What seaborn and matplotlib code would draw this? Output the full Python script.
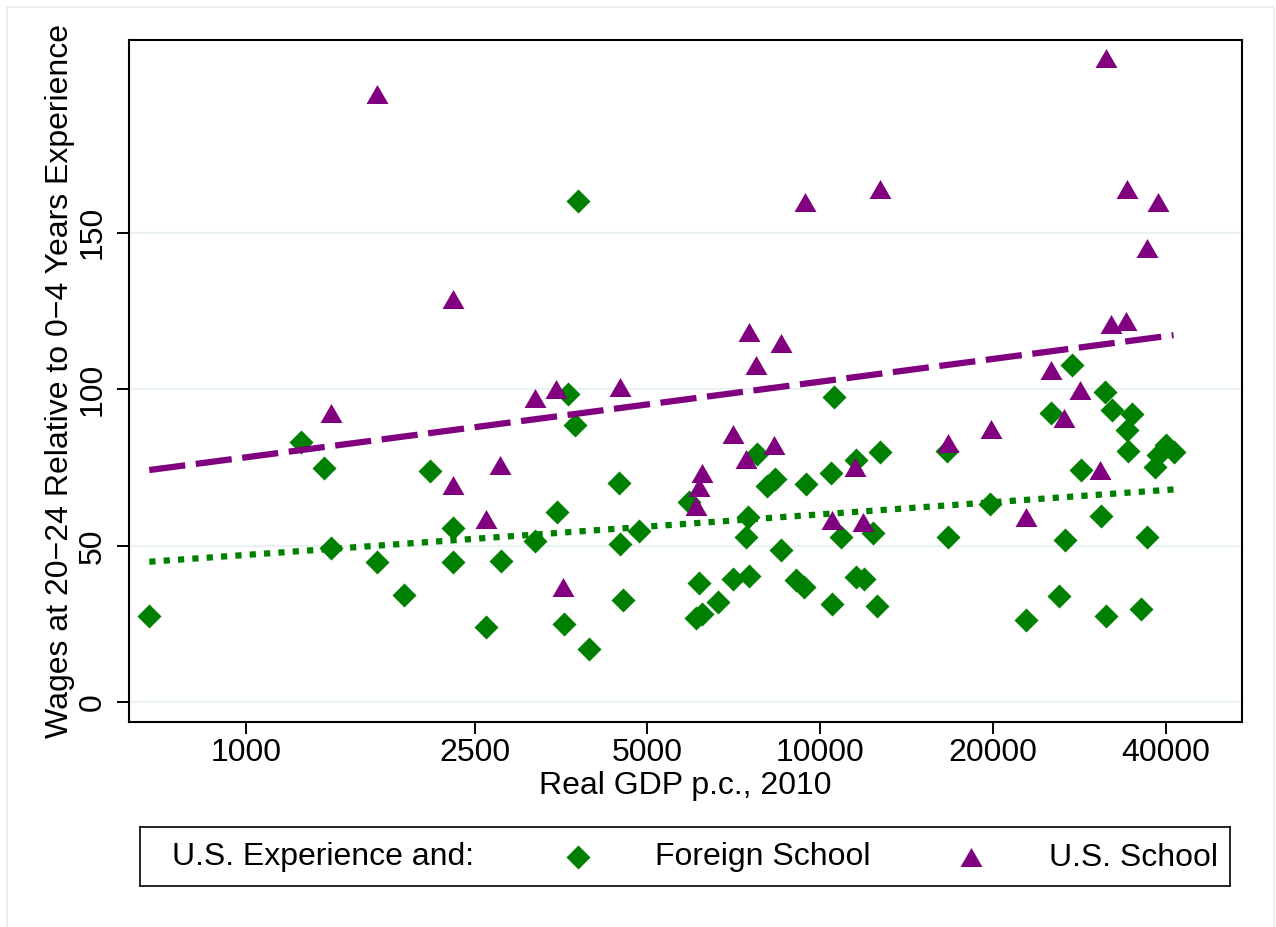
import pandas as pd
import matplotlib
matplotlib.use("Agg")
import matplotlib.pyplot as plt
import seaborn as sns
from matplotlib.markers import MarkerStyle
from matplotlib.path import Path
from matplotlib.patches import Rectangle

# wage at 20-24 yrs experience relative to 0-4 yrs, by real GDP p.c. 2010
foreign_gdp = [678, 1245, 1367, 1404, 1693, 1887, 2092, 2290, 2288, 2618,
               2777, 3188, 3477, 3581, 3629, 3743, 3785, 3963, 4467, 4471,
               4532, 4842, 5912, 6072, 6161, 6220, 6624, 7035, 7421, 7499,
               7530, 7757, 8073, 8348, 8541, 9073, 9389, 9428, 10440, 10500,
               10590, 10860, 11540, 11540, 11930, 12350, 12560, 12720, 16600, 16730,
               19790, 22850, 25240, 26090, 26650, 27410, 28460, 30790, 31370, 31480,
               32210, 34200, 34330, 34980, 36230, 37150, 38330, 38820, 40070, 41260]
foreign_wage = [27.6, 83.3, 74.8, 49.2, 44.9, 34.3, 73.9, 55.8, 44.7, 24.2,
                45.2, 51.5, 60.9, 24.9, 98.5, 88.6, 160.2, 16.9, 70.0, 50.6,
                32.7, 54.8, 64.1, 26.8, 38.2, 28.1, 31.9, 39.3, 52.7, 59.1,
                40.4, 79.3, 69.0, 71.4, 48.7, 39.1, 36.9, 69.6, 73.2, 31.4,
                97.4, 52.7, 77.4, 40.1, 39.4, 54.2, 30.9, 79.9, 80.3, 52.9,
                63.3, 26.3, 92.3, 34.1, 51.9, 107.8, 74.2, 59.5, 99.2, 27.7,
                93.4, 87.0, 80.3, 92.0, 29.8, 52.7, 75.3, 79.0, 82.2, 80.1]

us_gdp = [1404, 1690, 2288, 2294, 2618, 2770, 3188, 3467, 3571, 4471,
          6081, 6161, 6220, 7046, 7421, 7515, 7745, 8324, 8541, 9420,
          10480, 11510, 11870, 12700, 16690, 19830, 22830, 25240, 26600, 28380,
          30750, 31500, 32140, 34120, 34300, 37150, 38810]
us_wage = [92.3, 194.3, 69.4, 128.9, 58.6, 75.8, 97.1, 100.1, 36.7, 100.8,
           62.8, 68.9, 73.4, 85.6, 77.7, 118.3, 107.8, 82.2, 114.7, 160.0,
           58.2, 75.1, 57.7, 164.0, 82.9, 87.2, 59.3, 106.2, 90.7, 99.8,
           74.2, 205.8, 121.0, 121.8, 163.9, 145.0, 159.7]

# linear fit lines (end points)
fit_gdp = [678, 41260]
foreign_fit = [44.9, 68.0]
us_fit = [74.2, 117.3]

x_ticks = [1000, 2500, 5000, 10000, 20000, 40000]
y_ticks = [0, 50, 100, 150]

GREEN = "#008000"
PURPLE = "#800080"
GRID = "#eaf2f3"
FS = 23

sns.set_style("white")
plt.rcParams["font.family"] = ["Liberation Sans", "DejaVu Sans"]
plt.rcParams["text.color"] = "black"

foreign = pd.DataFrame({"gdp": foreign_gdp, "wage": foreign_wage})
us = pd.DataFrame({"gdp": us_gdp, "wage": us_wage})
fits = pd.DataFrame({
    "gdp": fit_gdp + fit_gdp,
    "wage": foreign_fit + us_fit,
    "group": ["foreign"] * 2 + ["us"] * 2,
})

# stata-like markers: square diamond and equilateral triangle
diamond = MarkerStyle(Path([(0, 1), (1, 0), (0, -1), (-1, 0), (0, 1)],
                           [1, 2, 2, 2, 79]))
triangle = MarkerStyle(Path([(-1, -0.866), (1, -0.866), (0, 0.866), (-1, -0.866)],
                            [1, 2, 2, 79]))
DSIZE = 300
TSIZE = 250

fig = plt.figure(figsize=(12.76, 9.27), dpi=100)
ax = fig.add_axes([129 / 1276, 1 - 722 / 927, 1113 / 1276, 682 / 927])

sns.scatterplot(data=foreign, x="gdp", y="wage", marker=diamond, s=DSIZE,
                color=GREEN, linewidth=0, ax=ax, zorder=3)
sns.scatterplot(data=us, x="gdp", y="wage", marker=triangle, s=TSIZE,
                color=PURPLE, linewidth=0, ax=ax, zorder=3)
sns.lineplot(data=fits, x="gdp", y="wage", hue="group", style="group",
             palette={"foreign": GREEN, "us": PURPLE},
             dashes={"foreign": (1.0, 1.3), "us": (5.8, 1.7)},
             estimator=None, linewidth=4.5, legend=False, ax=ax, zorder=4)

ax.set_xscale("log")
ax.set_xlim(625, 54300)
ax.set_ylim(-6.3, 211.6)
ax.set_xticks(x_ticks)
ax.set_xticklabels([str(t) for t in x_ticks])
ax.xaxis.set_minor_locator(matplotlib.ticker.NullLocator())
ax.set_yticks(y_ticks)
ax.set_yticklabels([str(t) for t in y_ticks], rotation=90, va="center")

ax.grid(axis="y", color=GRID, linewidth=1.6)
ax.grid(axis="x", visible=False)
ax.set_axisbelow(True)
for s in ax.spines.values():
    s.set_color("black")
    s.set_linewidth(1.5)
ax.tick_params(axis="both", which="major", direction="out", length=8.6,
               width=1.4, color="black", labelsize=FS, labelcolor="black",
               bottom=True, left=True, top=False, right=False)
ax.tick_params(axis="x", pad=3)
ax.tick_params(axis="y", pad=7)

ax.set_xlabel("Real GDP p.c., 2010", fontsize=FS, color="black")
ax.set_ylabel("Wages at 20\u221224 Relative to 0\u22124 Years Experience",
              fontsize=FS, color="black")
ax.xaxis.set_label_coords(0.5, -0.072)
ax.yaxis.set_label_coords(-0.0485, 0.5)

# legend box below the plot
leg = fig.add_axes([140 / 1276, 1 - 886 / 927, 1090 / 1276, 59 / 927])
leg.set_xlim(0, 1090)
leg.set_ylim(0, 59)
leg.set_xticks([])
leg.set_yticks([])
for s in leg.spines.values():
    s.set_color("black")
    s.set_linewidth(1.2)
leg.text(32, 28.5, "U.S. Experience and:", fontsize=FS, va="center", ha="left")
leg.scatter([438], [29.5], marker=diamond, s=DSIZE, color=GREEN, linewidth=0)
leg.text(515, 28.5, "Foreign School", fontsize=FS, va="center", ha="left")
leg.scatter([831], [29.5], marker=triangle, s=TSIZE, color=PURPLE, linewidth=0)
leg.text(909, 28.5, "U.S. School", fontsize=FS, va="center", ha="left")

# faint outer graph border
fig.patches.append(Rectangle((7 / 1276, -0.01), 1267 / 1276, 1 - 7 / 927 + 0.01,
                             transform=fig.transFigure, fill=False,
                             edgecolor="#e3eaee", linewidth=1.2))

fig.savefig("out.png", dpi=100, facecolor="white")
